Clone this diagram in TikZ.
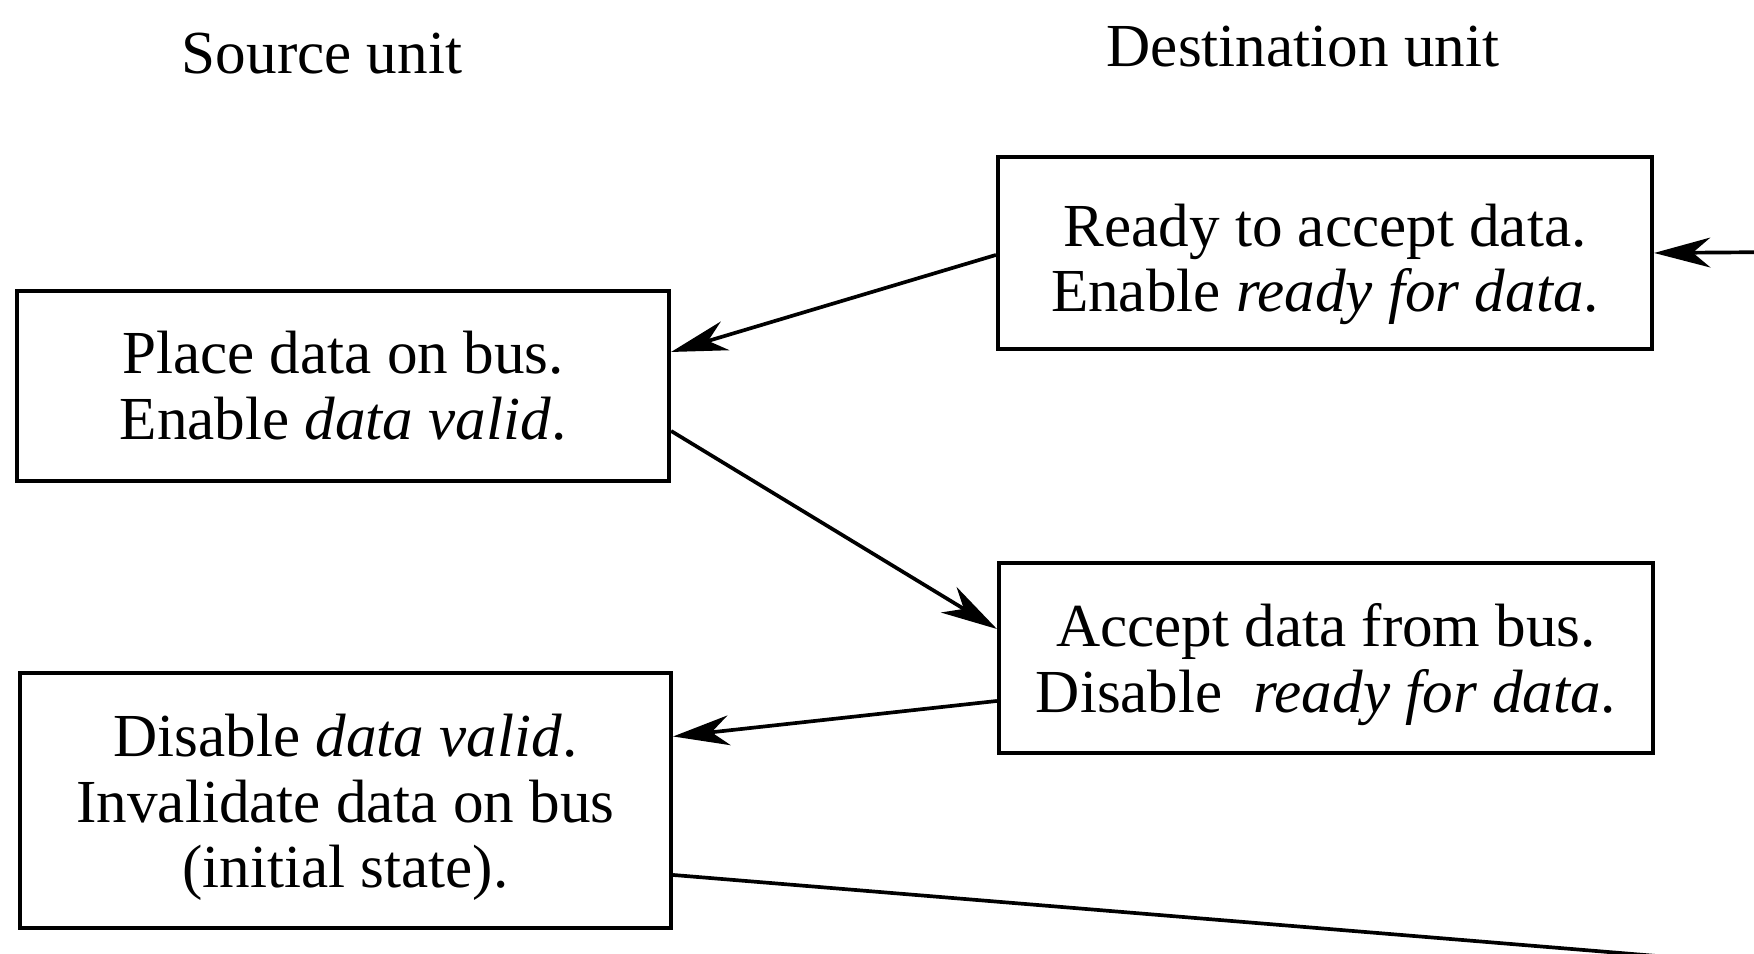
\documentclass[tikz,border=0pt]{standalone}
\usepackage{fontspec}
\setmainfont{Liberation Serif}
\usetikzlibrary{arrows.meta}
% invisible strut that pushes a box's text down
\newcommand{\pushdown}[1]{\rule{0pt}{#1}}
\begin{document}
\begin{tikzpicture}[
    font=\fontsize{17.4}{18.7}\selectfont,
    statebox/.style={draw, line width=1.2pt, align=center, inner sep=0pt},
    flow/.style={line width=1.05pt, -{Stealth[length=16pt, width=8.5pt, inset=5pt]}}]
    \clip (0,0) rectangle (17.54,9.54);
    \node (src) at (3.22,9.00) {Source unit};
    \node (dst) at (13.03,9.07) {Destination unit};
    \node[statebox, minimum width=6.54cm, minimum height=1.92cm] (ready) at (13.25,7.01)
        {\pushdown{18.6pt}Ready to accept data.\\Enable \textit{ready for data}.};
    \node[statebox, minimum width=6.52cm, minimum height=1.90cm] (place) at (3.43,5.68)
        {Place data on bus.\\Enable \textit{data valid}.};
    \node[statebox, minimum width=6.54cm, minimum height=1.90cm] (accept) at (13.26,2.96)
        {\pushdown{16pt}Accept data from bus.\\Disable~\ \textit{ready for data}.};
    \node[statebox, minimum width=6.51cm, minimum height=2.55cm] (invalid) at (3.455,1.535)
        {\pushdown{16pt}Disable \textit{data valid}.\\Invalidate data on bus\\(initial state).};
    \coordinate (loopin) at (17.9,7.02);
    \coordinate (loopout) at (17.9,-0.13);
    \draw[flow] (loopin) -- (ready.east);
    \draw[flow] ([yshift=-0.02cm]ready.west) -- ([yshift=0.34cm]place.east);
    \draw[flow] ([yshift=-0.45cm]place.east) -- ([yshift=0.29cm]accept.west);
    \draw[flow] ([yshift=-0.43cm]accept.west) -- ([yshift=0.64cm]invalid.east);
    \draw[line width=1.05pt] ([yshift=-0.745cm]invalid.east) -- (loopout);
\end{tikzpicture}
\end{document}
